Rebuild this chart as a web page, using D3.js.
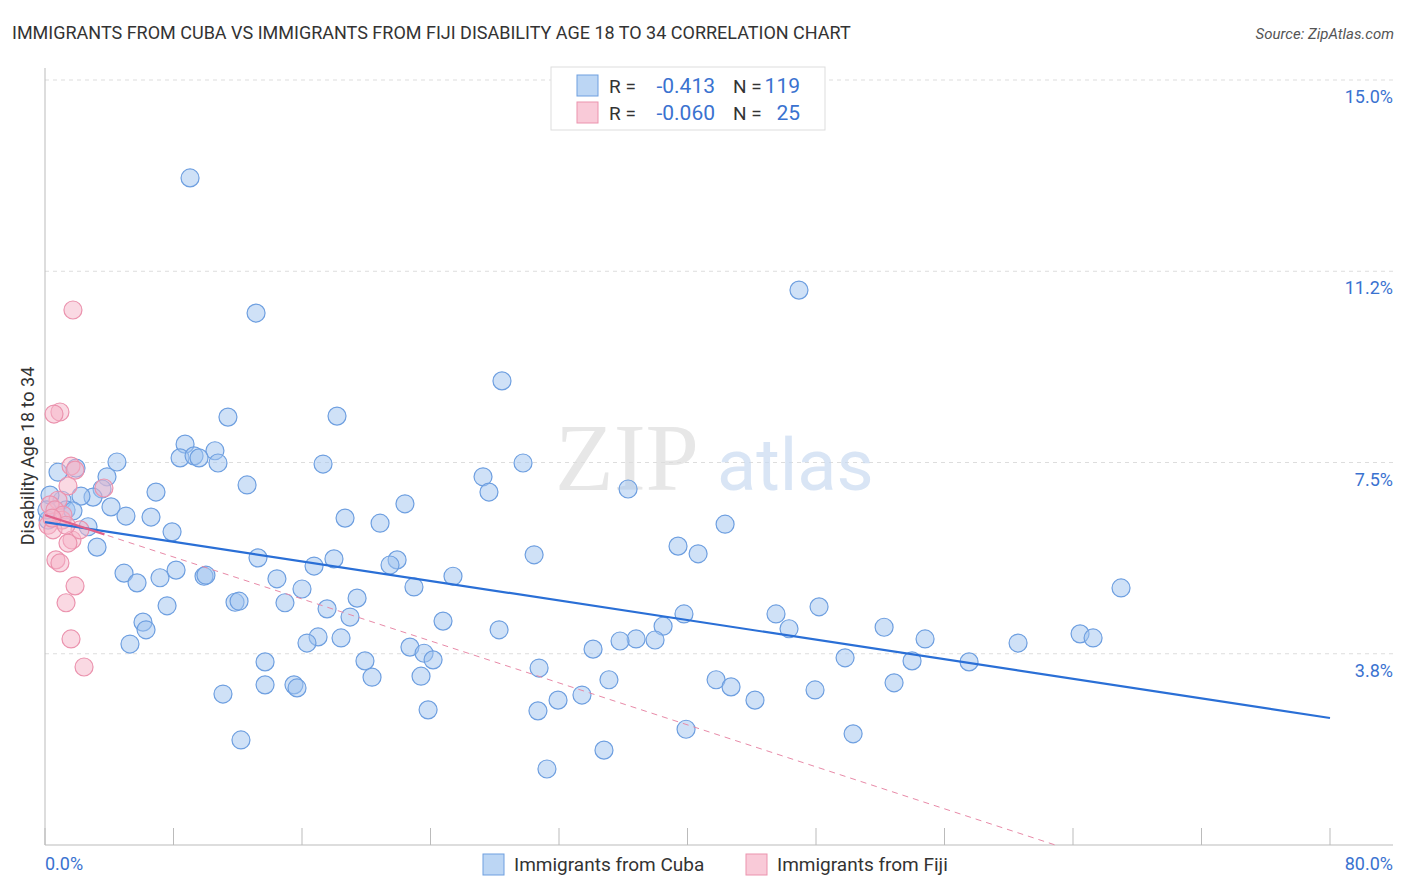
<!DOCTYPE html>
<html><head><meta charset="utf-8">
<script src="https://cdn.jsdelivr.net/npm/d3@7"></script>
<style>body{margin:0;background:#fff;font-family:Roboto,"Noto Sans",sans-serif}</style>
</head><body><svg id="chart" width="1406" height="892"></svg>
<script>
// Immigrants from Cuba: [x %, y %]
const cubaPoints = [
  [9.03,13.08],[46.94,10.88],[13.14,10.43],[28.45,9.10],[11.39,8.39],[18.18,8.41],[8.72,7.86],[10.58,7.73],
  [8.41,7.59],[9.28,7.63],[9.59,7.59],[10.77,7.49],[4.48,7.51],[17.31,7.47],[29.76,7.49],[1.93,7.39],
  [0.81,7.31],[3.86,7.22],[27.27,7.22],[12.58,7.06],[6.91,6.92],[3.55,6.98],[27.64,6.92],[36.30,6.98],
  [2.99,6.82],[2.24,6.84],[22.41,6.69],[1.06,6.76],[4.11,6.63],[1.31,6.57],[1.74,6.55],[5.04,6.45],
  [6.60,6.43],[18.68,6.41],[20.86,6.31],[42.34,6.29],[2.68,6.24],[7.91,6.14],[39.41,5.86],[3.24,5.84],
  [30.45,5.69],[40.66,5.71],[13.26,5.63],[17.99,5.61],[21.92,5.59],[16.75,5.47],[21.48,5.49],[4.92,5.33],
  [8.16,5.39],[25.40,5.27],[7.16,5.24],[14.44,5.22],[9.90,5.27],[10.02,5.29],[5.73,5.14],[22.97,5.06],
  [16.00,5.02],[66.99,5.04],[19.43,4.84],[11.83,4.76],[12.08,4.78],[14.94,4.75],[7.60,4.69],[48.19,4.67],
  [17.56,4.63],[39.78,4.53],[45.51,4.53],[18.99,4.47],[24.78,4.39],[6.10,4.37],[6.29,4.22],[38.48,4.29],
  [52.24,4.27],[28.27,4.22],[46.32,4.24],[17.00,4.08],[18.43,4.06],[22.72,3.88],[64.44,4.14],[65.25,4.06],
  [36.80,4.04],[35.80,4.00],[37.98,4.02],[54.79,4.04],[16.31,3.96],[5.29,3.94],[60.58,3.96],[34.12,3.84],
  [23.60,3.76],[24.16,3.63],[49.81,3.67],[19.92,3.61],[13.70,3.59],[53.98,3.61],[57.53,3.59],[30.76,3.47],
  [23.41,3.31],[20.36,3.29],[41.78,3.24],[35.11,3.24],[42.71,3.10],[13.70,3.14],[15.50,3.14],[15.69,3.08],
  [52.86,3.18],[47.94,3.04],[11.08,2.96],[33.43,2.94],[31.94,2.84],[44.20,2.84],[23.85,2.65],[30.69,2.63],
  [39.91,2.27],[50.31,2.18],[12.20,2.06],[34.80,1.86],[31.25,1.49],[0.19,6.37],[0.31,6.86],[0.12,6.57]
];
// Immigrants from Fiji: [x %, y %]
const fijiPoints = [
  [1.74,10.49],[0.93,8.49],[0.56,8.45],[1.62,7.43],[1.87,7.35],[3.67,7.00],[1.43,7.04],[0.81,6.76],
  [0.31,6.67],[0.62,6.57],[1.06,6.37],[0.19,6.27],[0.50,6.18],[1.68,5.98],[1.43,5.92],[2.18,6.18],
  [0.68,5.59],[0.93,5.53],[1.87,5.08],[1.31,4.75],[1.62,4.04],[2.43,3.49],[1.12,6.47],[1.31,6.27],[0.44,6.41]
];
// trend lines [x0,y0,x1,y1]
const cubaTrend = [0, 6.33, 80, 2.49];
const fijiTrendSolid = [0, 6.47, 3.7, 6.09];
const fijiTrendDash = [0, 6.47, 62.9, 0];

const yTicks = [3.75, 7.5, 11.25, 15];
const yTickLabels = ["3.8%", "7.5%", "11.2%", "15.0%"];
const xTicks = [0, 8, 16, 24, 32, 40, 48, 56, 64, 72, 80];

const svg = d3.select("#chart");
const plotLeft = 45, plotRight = 1330, plotTop = 80, plotBottom = 845;
const x = d3.scaleLinear().domain([0, 80]).range([plotLeft, plotRight]);
const y = d3.scaleLinear().domain([0, 15]).range([plotBottom, plotTop]);

// title
svg.append("text").attr("x", 12).attr("y", 39).attr("font-size", 18).attr("fill", "#333")
  .text("IMMIGRANTS FROM CUBA VS IMMIGRANTS FROM FIJI DISABILITY AGE 18 TO 34 CORRELATION CHART");
svg.append("text").attr("x", 1394).attr("y", 39).attr("font-size", 15).attr("fill", "#555")
  .attr("text-anchor", "end").attr("font-style", "italic").text("Source: ZipAtlas.com");

// gridlines
svg.append("g").selectAll("line").data(yTicks).join("line")
  .attr("x1", plotLeft).attr("x2", 1393).attr("y1", d => y(d)).attr("y2", d => y(d))
  .attr("stroke", "#ddd").attr("stroke-dasharray", "4,4");

// y labels
svg.append("g").selectAll("text").data(yTicks).join("text")
  .attr("x", 1393).attr("y", d => y(d) + 23).attr("text-anchor", "end")
  .attr("font-size", 18).attr("fill", "#3a72d0").text((d, i) => yTickLabels[i]);

// axes lines
svg.append("line").attr("x1", plotLeft).attr("x2", plotLeft).attr("y1", 68).attr("y2", plotBottom).attr("stroke", "#bbb");
svg.append("line").attr("x1", plotLeft).attr("x2", 1393).attr("y1", plotBottom).attr("y2", plotBottom).attr("stroke", "#bbb");
svg.append("g").selectAll("line").data(xTicks).join("line")
  .attr("x1", d => x(d)).attr("x2", d => x(d)).attr("y1", 828).attr("y2", plotBottom).attr("stroke", "#bbb");

svg.append("text").attr("x", 45).attr("y", 870).attr("font-size", 18).attr("fill", "#3a72d0").text("0.0%");
svg.append("text").attr("x", 1393).attr("y", 870).attr("text-anchor", "end").attr("font-size", 18).attr("fill", "#3a72d0").text("80.0%");

svg.append("text").attr("transform", "translate(34,456) rotate(-90)").attr("text-anchor", "middle")
  .attr("font-size", 18).attr("fill", "#333").text("Disability Age 18 to 34");

// watermark
svg.append("text").attr("x", 555).attr("y", 490).attr("font-size", 96).attr("font-family", "Liberation Serif,serif")
  .attr("fill", "#ddd").attr("opacity", 0.7).text("ZIP");
svg.append("text").attr("x", 717).attr("y", 490).attr("font-size", 72).attr("fill", "#c9dbf2").attr("opacity", 0.7).text("atlas");

// points
svg.append("g").selectAll("circle").data(cubaPoints).join("circle")
  .attr("cx", d => x(d[0])).attr("cy", d => y(d[1])).attr("r", 9)
  .attr("fill", "rgba(160,196,240,0.5)").attr("stroke", "#6e9fe0").attr("stroke-width", 1.2);
svg.append("g").selectAll("circle").data(fijiPoints).join("circle")
  .attr("cx", d => x(d[0])).attr("cy", d => y(d[1])).attr("r", 9)
  .attr("fill", "rgba(246,180,200,0.5)").attr("stroke", "#eb93ae").attr("stroke-width", 1.2);

// trends
const seg = (t) => svg.append("line").attr("x1", x(t[0])).attr("y1", y(t[1])).attr("x2", x(t[2])).attr("y2", y(t[3]));
seg(fijiTrendDash).attr("stroke", "#e88aa8").attr("stroke-dasharray", "6,5").attr("stroke-width", 1);
seg(cubaTrend).attr("stroke", "#2a6fd6").attr("stroke-width", 2.2);
seg(fijiTrendSolid).attr("stroke", "#e0608a").attr("stroke-width", 2.2);

// top legend
const lg = svg.append("g");
lg.append("rect").attr("x", 551).attr("y", 67).attr("width", 274).attr("height", 63).attr("fill", "#fff").attr("stroke", "#ddd");
const rows = [["-0.413", "119", "rgba(160,196,240,0.7)", "#6e9fe0"], ["-0.060", "25", "rgba(246,180,200,0.7)", "#eb93ae"]];
rows.forEach((r, i) => {
  const cy = 85 + i * 27;
  lg.append("rect").attr("x", 577).attr("y", cy - 10).attr("width", 21).attr("height", 21).attr("fill", r[2]).attr("stroke", r[3]);
  lg.append("text").attr("x", 609).attr("y", cy + 8).attr("font-size", 19).attr("fill", "#333").text("R =");
  lg.append("text").attr("x", 715).attr("y", cy + 8).attr("text-anchor", "end").attr("font-size", 21).attr("fill", "#3a72d0").text(r[0]);
  lg.append("text").attr("x", 733).attr("y", cy + 8).attr("font-size", 19).attr("fill", "#333").text("N =");
  lg.append("text").attr("x", 800).attr("y", cy + 8).attr("text-anchor", "end").attr("font-size", 21).attr("fill", "#3a72d0").text(r[1]);
});

// bottom legend
const bl = [["Immigrants from Cuba", 483, rows[0]], ["Immigrants from Fiji", 746, rows[1]]];
bl.forEach(b => {
  svg.append("rect").attr("x", b[1]).attr("y", 854).attr("width", 21).attr("height", 21).attr("fill", b[2][2]).attr("stroke", b[2][3]);
  svg.append("text").attr("x", b[1] + 31).attr("y", 871).attr("font-size", 19).attr("fill", "#333").text(b[0]);
});
</script></body></html>
